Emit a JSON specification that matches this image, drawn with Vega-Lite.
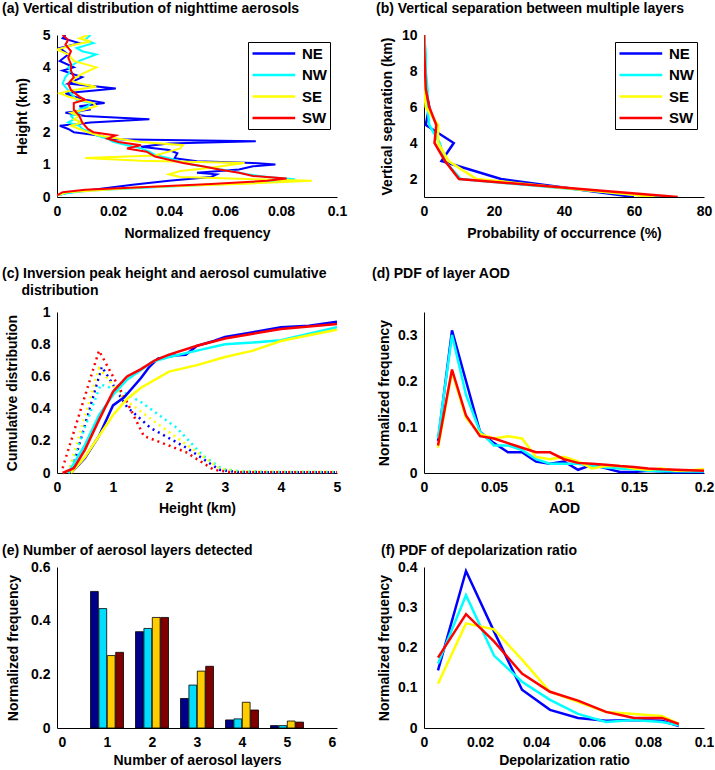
{
  "$schema": "https://vega.github.io/schema/vega-lite/v6.json",
  "padding": {"left": 2, "top": 2, "right": 0, "bottom": 0},
  "background": "white",
  "config": {
    "font": "Liberation Sans",
    "view": {"stroke": null},
    "axis": {"labelFont": "Liberation Sans", "labelFontWeight": "bold", "labelFontSize": 14, "labelColor": "black",
      "titleFont": "Liberation Sans", "titleFontWeight": "bold", "titleFontSize": 14, "titleColor": "black",
      "domainColor": "black", "domainWidth": 1, "ticks": false, "grid": false, "labelPadding": 7,
      "labelFlush": false, "labelOverlap": false, "labelBound": false, "titleBaseline": "middle"},
    "title": {"font": "Liberation Sans", "fontSize": 14, "fontWeight": "bold", "anchor": "start", "frame": "group", "color": "black", "baseline": "bottom"},
    "legend": {"orient": "top-right", "offset": 7, "strokeColor": "black", "fillColor": "white", "padding": 3, "rowPadding": 4.5,
      "labelFont": "Liberation Sans", "labelFontWeight": "bold", "labelFontSize": 15, "labelColor": "black",
      "symbolType": "M-1,0H5.1", "symbolSize": 196, "symbolStrokeWidth": 2.5, "labelOffset": 34, "title": null}
  },
  "datasets": {
    "a": [
      {"r":"NE","h":0.05,"v":0},{"r":"NE","h":0.15,"v":0.005},{"r":"NE","h":0.25,"v":0.015},{"r":"NE","h":0.38,"v":0.027},{"r":"NE","h":0.5,"v":0.04},{"r":"NE","h":0.62,"v":0.055},{"r":"NE","h":0.7,"v":0.057},{"r":"NE","h":0.75,"v":0.05},{"r":"NE","h":0.85,"v":0.065},{"r":"NE","h":0.95,"v":0.07},{"r":"NE","h":1.0,"v":0.078},{"r":"NE","h":1.05,"v":0.07},{"r":"NE","h":1.1,"v":0.05},{"r":"NE","h":1.2,"v":0.042},{"r":"NE","h":1.35,"v":0.043},{"r":"NE","h":1.45,"v":0.04},{"r":"NE","h":1.55,"v":0.03},{"r":"NE","h":1.65,"v":0.04},{"r":"NE","h":1.72,"v":0.071},{"r":"NE","h":1.78,"v":0.02},{"r":"NE","h":1.9,"v":0.015},{"r":"NE","h":2.0,"v":0.006},{"r":"NE","h":2.1,"v":0.004},{"r":"NE","h":2.2,"v":0.001},{"r":"NE","h":2.3,"v":0.012},{"r":"NE","h":2.4,"v":0.033},{"r":"NE","h":2.5,"v":0.01},{"r":"NE","h":2.6,"v":0.003},{"r":"NE","h":2.7,"v":0.012},{"r":"NE","h":2.8,"v":0.008},{"r":"NE","h":2.9,"v":0.017},{"r":"NE","h":3.0,"v":0.01},{"r":"NE","h":3.1,"v":0.006},{"r":"NE","h":3.2,"v":0.003},{"r":"NE","h":3.35,"v":0.021},{"r":"NE","h":3.5,"v":0.004},{"r":"NE","h":3.7,"v":0.009},{"r":"NE","h":3.9,"v":0.002},{"r":"NE","h":4.0,"v":0.006},{"r":"NE","h":4.2,"v":0.001},{"r":"NE","h":4.4,"v":0.004},{"r":"NE","h":4.6,"v":0.001},{"r":"NE","h":4.75,"v":0.008},{"r":"NE","h":4.9,"v":0.002},{"r":"NE","h":5.0,"v":0.003},
      {"r":"NW","h":0.05,"v":0},{"r":"NW","h":0.12,"v":0.004},{"r":"NW","h":0.2,"v":0.012},{"r":"NW","h":0.3,"v":0.035},{"r":"NW","h":0.4,"v":0.06},{"r":"NW","h":0.48,"v":0.08},{"r":"NW","h":0.55,"v":0.085},{"r":"NW","h":0.62,"v":0.075},{"r":"NW","h":0.7,"v":0.068},{"r":"NW","h":0.8,"v":0.062},{"r":"NW","h":0.9,"v":0.055},{"r":"NW","h":1.0,"v":0.048},{"r":"NW","h":1.1,"v":0.044},{"r":"NW","h":1.2,"v":0.04},{"r":"NW","h":1.3,"v":0.035},{"r":"NW","h":1.4,"v":0.033},{"r":"NW","h":1.5,"v":0.03},{"r":"NW","h":1.6,"v":0.025},{"r":"NW","h":1.7,"v":0.02},{"r":"NW","h":1.8,"v":0.018},{"r":"NW","h":1.9,"v":0.014},{"r":"NW","h":2.0,"v":0.012},{"r":"NW","h":2.1,"v":0.009},{"r":"NW","h":2.2,"v":0.008},{"r":"NW","h":2.3,"v":0.004},{"r":"NW","h":2.4,"v":0.006},{"r":"NW","h":2.5,"v":0.005},{"r":"NW","h":2.6,"v":0.008},{"r":"NW","h":2.7,"v":0.008},{"r":"NW","h":2.8,"v":0.011},{"r":"NW","h":2.9,"v":0.012},{"r":"NW","h":3.0,"v":0.007},{"r":"NW","h":3.1,"v":0.006},{"r":"NW","h":3.3,"v":0.004},{"r":"NW","h":3.5,"v":0.002},{"r":"NW","h":3.7,"v":0.003},{"r":"NW","h":3.9,"v":0.005},{"r":"NW","h":4.0,"v":0.004},{"r":"NW","h":4.2,"v":0.008},{"r":"NW","h":4.4,"v":0.014},{"r":"NW","h":4.5,"v":0.009},{"r":"NW","h":4.6,"v":0.007},{"r":"NW","h":4.75,"v":0.013},{"r":"NW","h":4.85,"v":0.01},{"r":"NW","h":5.0,"v":0.012},
      {"r":"SE","h":0.05,"v":0},{"r":"SE","h":0.15,"v":0.004},{"r":"SE","h":0.3,"v":0.03},{"r":"SE","h":0.42,"v":0.07},{"r":"SE","h":0.5,"v":0.091},{"r":"SE","h":0.56,"v":0.065},{"r":"SE","h":0.62,"v":0.044},{"r":"SE","h":0.7,"v":0.04},{"r":"SE","h":0.8,"v":0.044},{"r":"SE","h":0.9,"v":0.055},{"r":"SE","h":1.0,"v":0.063},{"r":"SE","h":1.05,"v":0.067},{"r":"SE","h":1.12,"v":0.03},{"r":"SE","h":1.2,"v":0.01},{"r":"SE","h":1.28,"v":0.035},{"r":"SE","h":1.4,"v":0.04},{"r":"SE","h":1.5,"v":0.044},{"r":"SE","h":1.6,"v":0.045},{"r":"SE","h":1.7,"v":0.03},{"r":"SE","h":1.8,"v":0.022},{"r":"SE","h":1.9,"v":0.015},{"r":"SE","h":2.0,"v":0.011},{"r":"SE","h":2.1,"v":0.008},{"r":"SE","h":2.2,"v":0.005},{"r":"SE","h":2.3,"v":0.009},{"r":"SE","h":2.4,"v":0.006},{"r":"SE","h":2.5,"v":0.008},{"r":"SE","h":2.6,"v":0.005},{"r":"SE","h":2.7,"v":0.01},{"r":"SE","h":2.8,"v":0.014},{"r":"SE","h":2.9,"v":0.013},{"r":"SE","h":3.0,"v":0.008},{"r":"SE","h":3.1,"v":0.004},{"r":"SE","h":3.2,"v":0.001},{"r":"SE","h":3.3,"v":0.006},{"r":"SE","h":3.4,"v":0.014},{"r":"SE","h":3.5,"v":0.008},{"r":"SE","h":3.6,"v":0.005},{"r":"SE","h":3.8,"v":0.009},{"r":"SE","h":4.0,"v":0.014},{"r":"SE","h":4.1,"v":0.01},{"r":"SE","h":4.2,"v":0.006},{"r":"SE","h":4.4,"v":0.004},{"r":"SE","h":4.55,"v":0.0},{"r":"SE","h":4.7,"v":0.006},{"r":"SE","h":4.8,"v":0.012},{"r":"SE","h":4.9,"v":0.008},{"r":"SE","h":5.0,"v":0.011},
      {"r":"SW","h":0.05,"v":0},{"r":"SW","h":0.15,"v":0.002},{"r":"SW","h":0.22,"v":0.01},{"r":"SW","h":0.3,"v":0.03},{"r":"SW","h":0.4,"v":0.055},{"r":"SW","h":0.5,"v":0.075},{"r":"SW","h":0.57,"v":0.082},{"r":"SW","h":0.65,"v":0.07},{"r":"SW","h":0.75,"v":0.065},{"r":"SW","h":0.85,"v":0.058},{"r":"SW","h":0.95,"v":0.052},{"r":"SW","h":1.05,"v":0.045},{"r":"SW","h":1.15,"v":0.04},{"r":"SW","h":1.25,"v":0.035},{"r":"SW","h":1.4,"v":0.032},{"r":"SW","h":1.5,"v":0.025},{"r":"SW","h":1.6,"v":0.03},{"r":"SW","h":1.7,"v":0.022},{"r":"SW","h":1.8,"v":0.018},{"r":"SW","h":1.9,"v":0.021},{"r":"SW","h":2.0,"v":0.013},{"r":"SW","h":2.1,"v":0.011},{"r":"SW","h":2.3,"v":0.009},{"r":"SW","h":2.5,"v":0.008},{"r":"SW","h":2.7,"v":0.006},{"r":"SW","h":2.9,"v":0.006},{"r":"SW","h":3.0,"v":0.01},{"r":"SW","h":3.1,"v":0.008},{"r":"SW","h":3.3,"v":0.005},{"r":"SW","h":3.5,"v":0.004},{"r":"SW","h":3.7,"v":0.006},{"r":"SW","h":3.9,"v":0.005},{"r":"SW","h":4.1,"v":0.005},{"r":"SW","h":4.3,"v":0.004},{"r":"SW","h":4.5,"v":0.005},{"r":"SW","h":4.7,"v":0.003},{"r":"SW","h":4.85,"v":0.004},{"r":"SW","h":5.0,"v":0.002}
    ],
    "b": [
      {"r":"NE","s":1,"p":60},{"r":"NE","s":2,"p":22},{"r":"NE","s":3,"p":5},{"r":"NE","s":4,"p":8.5},{"r":"NE","s":5,"p":0.5},{"r":"NE","s":6,"p":1.5},{"r":"NE","s":7,"p":0.5},{"r":"NE","s":8,"p":0.3},{"r":"NE","s":9,"p":0.2},{"r":"NE","s":10,"p":0},
      {"r":"NW","s":1,"p":68},{"r":"NW","s":2,"p":10.5},{"r":"NW","s":3,"p":6},{"r":"NW","s":4,"p":4.5},{"r":"NW","s":5,"p":1.5},{"r":"NW","s":6,"p":1},{"r":"NW","s":7,"p":1},{"r":"NW","s":8,"p":0.5},{"r":"NW","s":9,"p":0.5},{"r":"NW","s":10,"p":0},
      {"r":"SE","s":1,"p":66},{"r":"SE","s":2,"p":15},{"r":"SE","s":3,"p":7},{"r":"SE","s":4,"p":4},{"r":"SE","s":5,"p":4},{"r":"SE","s":6,"p":0.5},{"r":"SE","s":7,"p":0},{"r":"SE","s":8,"p":0},{"r":"SE","s":9,"p":0},{"r":"SE","s":10,"p":0},
      {"r":"SW","s":1,"p":72.5},{"r":"SW","s":2,"p":10},{"r":"SW","s":3,"p":6},{"r":"SW","s":4,"p":3},{"r":"SW","s":5,"p":3.5},{"r":"SW","s":6,"p":1.5},{"r":"SW","s":7,"p":0.5},{"r":"SW","s":8,"p":0.3},{"r":"SW","s":9,"p":0.1},{"r":"SW","s":10,"p":0}
    ],
    "c": [
      {"r":"NE","k":"cum","x":0.25,"y":0},{"r":"NE","k":"cum","x":0.5,"y":0.093},{"r":"NE","k":"cum","x":0.75,"y":0.23},{"r":"NE","k":"cum","x":1,"y":0.42},{"r":"NE","k":"cum","x":1.2,"y":0.47},{"r":"NE","k":"cum","x":1.5,"y":0.59},{"r":"NE","k":"cum","x":1.65,"y":0.66},{"r":"NE","k":"cum","x":1.8,"y":0.71},{"r":"NE","k":"cum","x":2.1,"y":0.73},{"r":"NE","k":"cum","x":2.3,"y":0.735},{"r":"NE","k":"cum","x":2.5,"y":0.79},{"r":"NE","k":"cum","x":2.8,"y":0.82},{"r":"NE","k":"cum","x":3,"y":0.845},{"r":"NE","k":"cum","x":3.5,"y":0.875},{"r":"NE","k":"cum","x":4,"y":0.905},{"r":"NE","k":"cum","x":4.5,"y":0.915},{"r":"NE","k":"cum","x":5,"y":0.94},
      {"r":"NW","k":"cum","x":0.2,"y":0},{"r":"NW","k":"cum","x":0.5,"y":0.175},{"r":"NW","k":"cum","x":0.75,"y":0.36},{"r":"NW","k":"cum","x":1,"y":0.485},{"r":"NW","k":"cum","x":1.25,"y":0.58},{"r":"NW","k":"cum","x":1.5,"y":0.64},{"r":"NW","k":"cum","x":1.7,"y":0.69},{"r":"NW","k":"cum","x":2,"y":0.72},{"r":"NW","k":"cum","x":2.5,"y":0.76},{"r":"NW","k":"cum","x":3,"y":0.8},{"r":"NW","k":"cum","x":3.5,"y":0.81},{"r":"NW","k":"cum","x":4,"y":0.825},{"r":"NW","k":"cum","x":4.5,"y":0.865},{"r":"NW","k":"cum","x":5,"y":0.905},
      {"r":"SE","k":"cum","x":0.25,"y":0},{"r":"SE","k":"cum","x":0.5,"y":0.1},{"r":"SE","k":"cum","x":0.75,"y":0.23},{"r":"SE","k":"cum","x":1,"y":0.36},{"r":"SE","k":"cum","x":1.25,"y":0.46},{"r":"SE","k":"cum","x":1.5,"y":0.53},{"r":"SE","k":"cum","x":2,"y":0.63},{"r":"SE","k":"cum","x":2.5,"y":0.67},{"r":"SE","k":"cum","x":3,"y":0.72},{"r":"SE","k":"cum","x":3.5,"y":0.76},{"r":"SE","k":"cum","x":4,"y":0.82},{"r":"SE","k":"cum","x":4.5,"y":0.855},{"r":"SE","k":"cum","x":5,"y":0.89},
      {"r":"SW","k":"cum","x":0.1,"y":0},{"r":"SW","k":"cum","x":0.3,"y":0.03},{"r":"SW","k":"cum","x":0.5,"y":0.145},{"r":"SW","k":"cum","x":0.75,"y":0.33},{"r":"SW","k":"cum","x":1,"y":0.505},{"r":"SW","k":"cum","x":1.25,"y":0.6},{"r":"SW","k":"cum","x":1.5,"y":0.645},{"r":"SW","k":"cum","x":1.75,"y":0.7},{"r":"SW","k":"cum","x":2,"y":0.735},{"r":"SW","k":"cum","x":2.5,"y":0.79},{"r":"SW","k":"cum","x":3,"y":0.835},{"r":"SW","k":"cum","x":3.5,"y":0.865},{"r":"SW","k":"cum","x":4,"y":0.895},{"r":"SW","k":"cum","x":4.5,"y":0.91},{"r":"SW","k":"cum","x":5,"y":0.925},
      {"r":"NE","k":"peak","x":0.25,"y":0},{"r":"NE","k":"peak","x":0.8,"y":0.66},{"r":"NE","k":"peak","x":1.25,"y":0.41},{"r":"NE","k":"peak","x":1.67,"y":0.28},{"r":"NE","k":"peak","x":2.32,"y":0.155},{"r":"NE","k":"peak","x":2.9,"y":0.02},{"r":"NE","k":"peak","x":3.2,"y":0.006},{"r":"NE","k":"peak","x":4,"y":0.005},{"r":"NE","k":"peak","x":5,"y":0.005},
      {"r":"NW","k":"peak","x":0.2,"y":0},{"r":"NW","k":"peak","x":0.78,"y":0.55},{"r":"NW","k":"peak","x":1.2,"y":0.5},{"r":"NW","k":"peak","x":1.5,"y":0.44},{"r":"NW","k":"peak","x":2.14,"y":0.28},{"r":"NW","k":"peak","x":2.6,"y":0.11},{"r":"NW","k":"peak","x":2.95,"y":0.025},{"r":"NW","k":"peak","x":3.3,"y":0.008},{"r":"NW","k":"peak","x":4,"y":0.006},{"r":"NW","k":"peak","x":5,"y":0.006},
      {"r":"SE","k":"peak","x":0.2,"y":0},{"r":"SE","k":"peak","x":0.75,"y":0.65},{"r":"SE","k":"peak","x":1.2,"y":0.46},{"r":"SE","k":"peak","x":1.7,"y":0.33},{"r":"SE","k":"peak","x":2.3,"y":0.18},{"r":"SE","k":"peak","x":2.9,"y":0.03},{"r":"SE","k":"peak","x":3.2,"y":0.012},{"r":"SE","k":"peak","x":4,"y":0.008},{"r":"SE","k":"peak","x":5,"y":0.007},
      {"r":"SW","k":"peak","x":0.1,"y":0.03},{"r":"SW","k":"peak","x":0.75,"y":0.76},{"r":"SW","k":"peak","x":1.25,"y":0.44},{"r":"SW","k":"peak","x":1.55,"y":0.23},{"r":"SW","k":"peak","x":2.3,"y":0.13},{"r":"SW","k":"peak","x":2.8,"y":0.02},{"r":"SW","k":"peak","x":3.1,"y":0.005},{"r":"SW","k":"peak","x":4,"y":0.004},{"r":"SW","k":"peak","x":5,"y":0.004}
    ],
    "d": [
      {"r":"NE","x":0.01,"y":0.07},{"r":"NE","x":0.02,"y":0.31},{"r":"NE","x":0.03,"y":0.2},{"r":"NE","x":0.04,"y":0.09},{"r":"NE","x":0.05,"y":0.065},{"r":"NE","x":0.06,"y":0.045},{"r":"NE","x":0.07,"y":0.045},{"r":"NE","x":0.08,"y":0.025},{"r":"NE","x":0.09,"y":0.02},{"r":"NE","x":0.1,"y":0.025},{"r":"NE","x":0.11,"y":0.007},{"r":"NE","x":0.12,"y":0.018},{"r":"NE","x":0.13,"y":0.01},{"r":"NE","x":0.14,"y":0.002},{"r":"NE","x":0.15,"y":0.002},{"r":"NE","x":0.16,"y":0.005},{"r":"NE","x":0.17,"y":0.003},{"r":"NE","x":0.18,"y":0.001},{"r":"NE","x":0.19,"y":0.002},{"r":"NE","x":0.2,"y":0.001},
      {"r":"NW","x":0.01,"y":0.075},{"r":"NW","x":0.02,"y":0.3},{"r":"NW","x":0.03,"y":0.17},{"r":"NW","x":0.04,"y":0.09},{"r":"NW","x":0.05,"y":0.06},{"r":"NW","x":0.06,"y":0.06},{"r":"NW","x":0.07,"y":0.05},{"r":"NW","x":0.08,"y":0.03},{"r":"NW","x":0.09,"y":0.02},{"r":"NW","x":0.1,"y":0.02},{"r":"NW","x":0.11,"y":0.02},{"r":"NW","x":0.12,"y":0.015},{"r":"NW","x":0.13,"y":0.012},{"r":"NW","x":0.14,"y":0.01},{"r":"NW","x":0.15,"y":0.008},{"r":"NW","x":0.16,"y":0.005},{"r":"NW","x":0.17,"y":0.004},{"r":"NW","x":0.18,"y":0.004},{"r":"NW","x":0.19,"y":0.003},{"r":"NW","x":0.2,"y":0.003},
      {"r":"SE","x":0.01,"y":0.055},{"r":"SE","x":0.02,"y":0.22},{"r":"SE","x":0.03,"y":0.12},{"r":"SE","x":0.04,"y":0.085},{"r":"SE","x":0.05,"y":0.075},{"r":"SE","x":0.06,"y":0.08},{"r":"SE","x":0.07,"y":0.075},{"r":"SE","x":0.08,"y":0.035},{"r":"SE","x":0.09,"y":0.03},{"r":"SE","x":0.1,"y":0.035},{"r":"SE","x":0.11,"y":0.025},{"r":"SE","x":0.12,"y":0.01},{"r":"SE","x":0.13,"y":0.015},{"r":"SE","x":0.14,"y":0.015},{"r":"SE","x":0.15,"y":0.01},{"r":"SE","x":0.16,"y":0.007},{"r":"SE","x":0.17,"y":0.01},{"r":"SE","x":0.18,"y":0.005},{"r":"SE","x":0.19,"y":0.006},{"r":"SE","x":0.2,"y":0.008},
      {"r":"SW","x":0.01,"y":0.06},{"r":"SW","x":0.02,"y":0.225},{"r":"SW","x":0.03,"y":0.125},{"r":"SW","x":0.04,"y":0.08},{"r":"SW","x":0.05,"y":0.075},{"r":"SW","x":0.06,"y":0.065},{"r":"SW","x":0.07,"y":0.055},{"r":"SW","x":0.08,"y":0.045},{"r":"SW","x":0.09,"y":0.045},{"r":"SW","x":0.1,"y":0.03},{"r":"SW","x":0.11,"y":0.022},{"r":"SW","x":0.12,"y":0.02},{"r":"SW","x":0.13,"y":0.018},{"r":"SW","x":0.14,"y":0.015},{"r":"SW","x":0.15,"y":0.013},{"r":"SW","x":0.16,"y":0.01},{"r":"SW","x":0.17,"y":0.008},{"r":"SW","x":0.18,"y":0.007},{"r":"SW","x":0.19,"y":0.006},{"r":"SW","x":0.2,"y":0.005}
    ],
    "e": [
      {"r":"NE","n":1,"f":0.509},{"r":"NE","n":2,"f":0.359},{"r":"NE","n":3,"f":0.11},{"r":"NE","n":4,"f":0.03},{"r":"NE","n":5,"f":0.009},
      {"r":"NW","n":1,"f":0.445},{"r":"NW","n":2,"f":0.371},{"r":"NW","n":3,"f":0.16},{"r":"NW","n":4,"f":0.034},{"r":"NW","n":5,"f":0.009},
      {"r":"SE","n":1,"f":0.27},{"r":"SE","n":2,"f":0.412},{"r":"SE","n":3,"f":0.212},{"r":"SE","n":4,"f":0.096},{"r":"SE","n":5,"f":0.026},
      {"r":"SW","n":1,"f":0.282},{"r":"SW","n":2,"f":0.412},{"r":"SW","n":3,"f":0.23},{"r":"SW","n":4,"f":0.067},{"r":"SW","n":5,"f":0.022}
    ],
    "f": [
      {"r":"NE","x":0.005,"y":0.143},{"r":"NE","x":0.015,"y":0.39},{"r":"NE","x":0.025,"y":0.24},{"r":"NE","x":0.035,"y":0.095},{"r":"NE","x":0.045,"y":0.045},{"r":"NE","x":0.055,"y":0.025},{"r":"NE","x":0.065,"y":0.018},{"r":"NE","x":0.075,"y":0.02},{"r":"NE","x":0.085,"y":0.018},{"r":"NE","x":0.091,"y":0.005},
      {"r":"NW","x":0.005,"y":0.16},{"r":"NW","x":0.015,"y":0.33},{"r":"NW","x":0.025,"y":0.18},{"r":"NW","x":0.035,"y":0.115},{"r":"NW","x":0.045,"y":0.07},{"r":"NW","x":0.055,"y":0.035},{"r":"NW","x":0.065,"y":0.015},{"r":"NW","x":0.075,"y":0.02},{"r":"NW","x":0.085,"y":0.015},{"r":"NW","x":0.091,"y":0.007},
      {"r":"SE","x":0.005,"y":0.11},{"r":"SE","x":0.015,"y":0.26},{"r":"SE","x":0.025,"y":0.245},{"r":"SE","x":0.035,"y":0.17},{"r":"SE","x":0.045,"y":0.09},{"r":"SE","x":0.055,"y":0.065},{"r":"SE","x":0.065,"y":0.04},{"r":"SE","x":0.075,"y":0.035},{"r":"SE","x":0.085,"y":0.03},{"r":"SE","x":0.091,"y":0.01},
      {"r":"SW","x":0.005,"y":0.175},{"r":"SW","x":0.015,"y":0.283},{"r":"SW","x":0.025,"y":0.215},{"r":"SW","x":0.035,"y":0.135},{"r":"SW","x":0.045,"y":0.09},{"r":"SW","x":0.055,"y":0.068},{"r":"SW","x":0.065,"y":0.04},{"r":"SW","x":0.075,"y":0.025},{"r":"SW","x":0.085,"y":0.025},{"r":"SW","x":0.091,"y":0.01}
    ]
  },
  "columns": 2,
  "bounds": "flush",
  "spacing": {"row": 0, "column": 87},
  "resolve": {"scale": {"color": "independent"}, "legend": {"color": "independent"}},
  "concat": [
    {
      "width": 280, "height": 162,
      "title": {"text": "(a) Vertical distribution of nighttime aerosols", "dx": -55, "offset": 12},
      "data": {"name": "a"},
      "mark": {"type": "line", "strokeWidth": 2, "clip": true},
      "encoding": {
        "x": {"field": "v", "type": "quantitative", "scale": {"domain": [0, 0.1], "nice": false}, "axis": {"values": [0, 0.02, 0.04, 0.06, 0.08, 0.1], "format": ".2~f", "title": "Normalized frequency", "titleY": 36}},
        "y": {"field": "h", "type": "quantitative", "scale": {"domain": [0, 5], "nice": false}, "axis": {"values": [0, 1, 2, 3, 4, 5], "title": "Height (km)", "titleX": -35}},
        "order": {"field": "h", "type": "quantitative"},
        "color": {"field": "r", "type": "nominal", "scale": {"domain": ["NE", "NW", "SE", "SW"], "range": ["#0000FF", "#00FFFF", "#FFFF00", "#FF0000"]}}
      }
    },
    {
      "width": 280, "height": 162,
      "title": {"text": "(b) Vertical separation between multiple layers", "dx": -48, "offset": 12},
      "data": {"name": "b"},
      "mark": {"type": "line", "strokeWidth": 2.5, "clip": true},
      "encoding": {
        "x": {"field": "p", "type": "quantitative", "scale": {"domain": [0, 80], "nice": false}, "axis": {"values": [0, 20, 40, 60, 80], "title": "Probability of occurrence (%)", "titleY": 36}},
        "y": {"field": "s", "type": "quantitative", "scale": {"domain": [1, 10], "nice": false, "zero": false}, "axis": {"values": [2, 4, 6, 8, 10], "title": "Vertical separation (km)", "titleX": -37}},
        "order": {"field": "s", "type": "quantitative"},
        "color": {"field": "r", "type": "nominal", "scale": {"domain": ["NE", "NW", "SE", "SW"], "range": ["#0000FF", "#00FFFF", "#FFFF00", "#FF0000"]}}
      }
    },
    {"width": 280, "height": 115, "data": {"values": []}, "mark": "point"},
    {"width": 280, "height": 115, "data": {"values": []}, "mark": "point"},
    {
      "width": 280, "height": 161,
      "title": {"text": ["(c) Inversion peak height and aerosol cumulative", "\u200b\u00a0\u00a0\u00a0\u00a0\u00a0distribution"], "dx": -55, "offset": 7, "lineHeight": 17},
      "data": {"name": "c"},
      "encoding": {
        "x": {"field": "x", "type": "quantitative", "scale": {"domain": [0, 5], "nice": false}, "axis": {"values": [0, 1, 2, 3, 4, 5], "title": "Height (km)", "titleY": 35}},
        "y": {"field": "y", "type": "quantitative", "scale": {"domain": [0, 1], "nice": false}, "axis": {"values": [0, 0.2, 0.4, 0.6, 0.8, 1], "format": ".1~f", "title": "Cumulative distribution", "titleX": -45}},
        "color": {"field": "r", "type": "nominal", "legend": null, "scale": {"domain": ["NE", "NW", "SE", "SW"], "range": ["#0000FF", "#00FFFF", "#FFFF00", "#FF0000"]}}
      },
      "layer": [
        {"transform": [{"filter": "datum.k === 'peak'"}], "mark": {"type": "line", "strokeWidth": 2.5, "strokeDash": [2, 4]}},
        {"transform": [{"filter": "datum.k === 'cum'"}], "mark": {"type": "line", "strokeWidth": 2.5}}
      ]
    },
    {
      "width": 280, "height": 161,
      "title": {"text": "(d) PDF of layer AOD", "dx": -52, "offset": 31},
      "data": {"name": "d"},
      "mark": {"type": "line", "strokeWidth": 2.5},
      "encoding": {
        "x": {"field": "x", "type": "quantitative", "scale": {"domain": [0, 0.2], "nice": false}, "axis": {"values": [0, 0.05, 0.1, 0.15, 0.2], "format": ".2~f", "title": "AOD", "titleY": 35}},
        "y": {"field": "y", "type": "quantitative", "scale": {"domain": [0, 0.35], "nice": false}, "axis": {"values": [0, 0.1, 0.2, 0.3], "format": ".1~f", "title": "Normalized frequency", "titleX": -40}},
        "color": {"field": "r", "type": "nominal", "legend": null, "scale": {"domain": ["NE", "NW", "SE", "SW"], "range": ["#0000FF", "#00FFFF", "#FFFF00", "#FF0000"]}}
      }
    },
    {"width": 280, "height": 94, "data": {"values": []}, "mark": "point"},
    {"width": 280, "height": 94, "data": {"values": []}, "mark": "point"},
    {
      "width": 280, "height": 161,
      "title": {"text": "(e) Number of aerosol layers detected", "dx": -55, "offset": 2},
      "data": {"name": "e"},
      "encoding": {
        "x": {"field": "n", "type": "quantitative", "scale": {"domain": [0, 6], "nice": false}, "axis": {"values": [0, 1, 2, 3, 4, 5, 6], "title": "Number of aerosol layers", "titleY": 32}},
        "y": {"field": "f", "type": "quantitative", "scale": {"domain": [0, 0.6], "nice": false}, "axis": {"values": [0, 0.2, 0.4, 0.6], "format": ".1~f", "title": "Normalized frequency", "titleX": -44}}
      },
      "layer": [
        {"transform": [{"filter": "datum.r === 'NE'"}], "mark": {"type": "bar", "width": 7.8, "xOffset": -12.6, "color": "#000088", "stroke": "black", "strokeWidth": 0.8}},
        {"transform": [{"filter": "datum.r === 'NW'"}], "mark": {"type": "bar", "width": 7.8, "xOffset": -4.2, "color": "#00DDFF", "stroke": "black", "strokeWidth": 0.8}},
        {"transform": [{"filter": "datum.r === 'SE'"}], "mark": {"type": "bar", "width": 7.8, "xOffset": 4.2, "color": "#FFCC00", "stroke": "black", "strokeWidth": 0.8}},
        {"transform": [{"filter": "datum.r === 'SW'"}], "mark": {"type": "bar", "width": 7.8, "xOffset": 12.6, "color": "#800000", "stroke": "black", "strokeWidth": 0.8}}
      ]
    },
    {
      "width": 280, "height": 161,
      "title": {"text": "(f) PDF of depolarization ratio", "dx": -43, "offset": 2},
      "data": {"name": "f"},
      "mark": {"type": "line", "strokeWidth": 2.5},
      "encoding": {
        "x": {"field": "x", "type": "quantitative", "scale": {"domain": [0, 0.1], "nice": false}, "axis": {"values": [0, 0.02, 0.04, 0.06, 0.08, 0.1], "format": ".2~f", "title": "Depolarization ratio", "titleY": 32}},
        "y": {"field": "y", "type": "quantitative", "scale": {"domain": [0, 0.4], "nice": false}, "axis": {"values": [0, 0.1, 0.2, 0.3, 0.4], "format": ".1~f", "title": "Normalized frequency", "titleX": -40}},
        "color": {"field": "r", "type": "nominal", "legend": null, "scale": {"domain": ["NE", "NW", "SE", "SW"], "range": ["#0000FF", "#00FFFF", "#FFFF00", "#FF0000"]}}
      }
    }
  ]
}
